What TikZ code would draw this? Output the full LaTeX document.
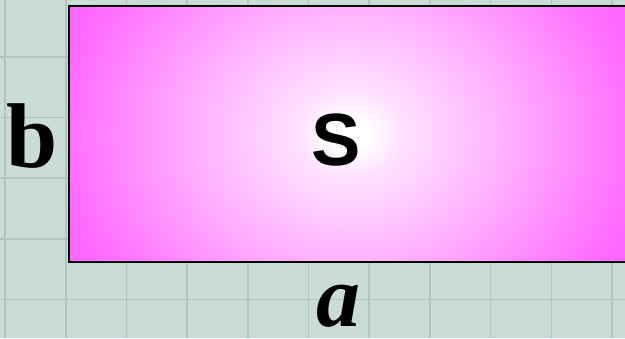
\documentclass[tikz,border=0pt]{standalone}
\usepackage{fontspec}
\setmainfont{Liberation Serif}
\newfontfamily\areafont{Liberation Sans}
\definecolor{paper}{RGB}{201,220,213}
\definecolor{gridline}{RGB}{180,196,189}
\definecolor{pinkmag}{RGB}{255,102,255}
\pgfdeclareradialshading{glow}{\pgfpoint{0bp}{0bp}}{color(0bp)=(white); color(1.5bp)=(white); color(4.5bp)=(pinkmag!20!white); color(12.5bp)=(pinkmag!50!white); color(23.5bp)=(pinkmag!95!white); color(25bp)=(pinkmag); color(50bp)=(pinkmag)}

\begin{document}
\begin{tikzpicture}[
    x=1pt, y=-1pt,
    side/.style={inner sep=0pt, anchor=base, font=\fontsize{92}{92}\selectfont\bfseries},
    sideit/.style={side, font=\fontsize{88}{88}\selectfont\bfseries\itshape},
    area/.style={inner sep=0pt, anchor=base, font=\fontsize{74}{74}\selectfont\areafont\bfseries}
]
\useasboundingbox (0,0) rectangle (625,338);
\clip (0,0) rectangle (625,338);
\fill[paper] (0,0) rectangle (625,338);

% grid paper
\foreach \gx in {5,65.7,...,625}
    \draw[gridline, line width=1.6pt] (\gx,0) -- (\gx,338);
\foreach \gy in {-4,56.7,...,338}
    \draw[gridline, line width=1.6pt] (0,\gy) -- (625,\gy);

% the rectangle, glowing from the middle
\begin{scope}
    \clip (69,6) rectangle (636,262);
    \fill[pinkmag] (69,6) rectangle (636,262);
    \shade[shading=glow] (350,134) ellipse [x radius=300, y radius=250];
\end{scope}
\draw[line width=2.6pt] (69,6) rectangle (636,262);

% labels
\node (bside) [side] at (32,167) {b};
\node (sarea) [area] at (336,165) {S};
\node (aside) [sideit] at (338,326) {a};
\end{tikzpicture}
\end{document}
